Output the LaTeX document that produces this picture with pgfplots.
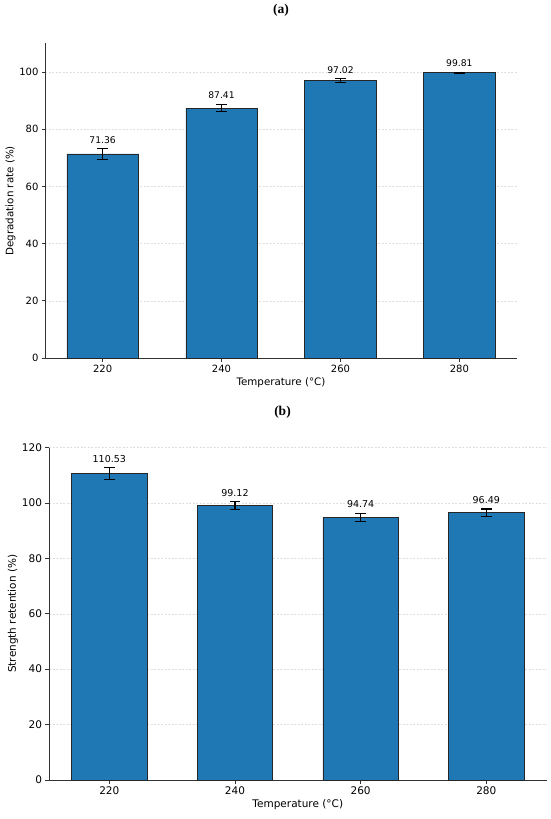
\documentclass[border=0pt]{standalone}
\usepackage{fontspec}
\setmainfont{DejaVu Sans}
\newfontfamily\timesfont{Liberation Serif}
\usepackage{pgfplots}
\pgfplotsset{compat=1.18}
\definecolor{barblue}{HTML}{1F77B4}
\definecolor{spine}{HTML}{333333}

\pgfplotsset{mystyle/.style={
  scale only axis,
  xmin=-0.48, xmax=3.48, ymin=0,
  xtick={0,1,2,3}, xticklabels={220,240,260,280},
  axis x line*=bottom, axis y line*=left,
  axis line style={-, spine, line width=0.8pt},
  tick align=outside, major tick length=3.5pt,
  tick style={spine, line width=0.8pt},
  ymajorgrids, grid style={gray!25, line width=0.5pt, dash pattern=on 2pt off 1.5pt},
  /pgf/number format/assume math mode=true,
  xlabel={Temperature (°C)},
  clip=false,
}}

\begin{document}
\begin{tikzpicture}
\path[use as bounding box] (-45.5pt,358pt) rectangle (504.5pt,-461pt);

\begin{axis}[mystyle,
  at={(0pt,0pt)}, anchor=south west,
  width=471pt, height=314.5pt,
  ymax=110, ytick={0,20,40,60,80,100},
  ylabel={Degradation rate (\%)},
  tick label style={font=\fontsize{10}{12}\selectfont},
  label style={font=\fontsize{10.3}{12}\selectfont},
  xlabel style={yshift=2pt},
  ylabel style={yshift=-3pt},
]
\addplot[ybar, bar width=0.6, fill=barblue, draw=black!85, line width=0.6pt,
  error bars/.cd, y dir=both, y explicit,
  error bar style={black, line width=1.1pt},
  error mark options={black, rotate=90, line width=1.1pt, mark size=5.3pt}]
  table[x=x, y=y, y error=e] {
x y e
0 71.36 1.86
1 87.41 1.33
2 97.02 0.75
3 99.81 0.20
};
\addplot[draw=none, mark=none, nodes near coords, point meta=explicit symbolic,
  nodes near coords style={anchor=south, inner sep=0pt, yshift=5pt, black,
    font=\fontsize{9.2}{11}\selectfont}]
  coordinates {(0,73.22)[71.36] (1,88.74)[87.41] (2,97.77)[97.02] (3,100.01)[99.81]};
\end{axis}

\node[font=\timesfont\bfseries\fontsize{13.5}{15}\selectfont] at (235.5pt,347.5pt) {(a)};
\node[font=\timesfont\bfseries\fontsize{13.5}{15}\selectfont] at (237pt,-54pt) {(b)};

\begin{axis}[mystyle,
  at={(3.5pt,-422pt)}, anchor=south west,
  width=497.6pt, height=332.5pt,
  ymax=120, ytick={0,20,40,60,80,100,120},
  ylabel={Strength retention (\%)},
  tick label style={font=\fontsize{10.5}{12}\selectfont},
  label style={font=\fontsize{10.5}{12}\selectfont},
  xlabel style={yshift=2pt},
  ylabel style={yshift=-3pt},
]
\addplot[ybar, bar width=0.6, fill=barblue, draw=black!85, line width=0.6pt,
  error bars/.cd, y dir=both, y explicit,
  error bar style={black, line width=1.1pt},
  error mark options={black, rotate=90, line width=1.1pt, mark size=5.3pt}]
  table[x=x, y=y, y error=e] {
x y e
0 110.53 2.1
1 99.12 1.45
2 94.74 1.6
3 96.49 1.3
};
\addplot[draw=none, mark=none, nodes near coords, point meta=explicit symbolic,
  nodes near coords style={anchor=south, inner sep=0pt, yshift=5pt, black,
    font=\fontsize{9.5}{11}\selectfont}]
  coordinates {(0,112.63)[110.53] (1,100.57)[99.12] (2,96.34)[94.74] (3,97.79)[96.49]};
\end{axis}
\end{tikzpicture}
\end{document}
